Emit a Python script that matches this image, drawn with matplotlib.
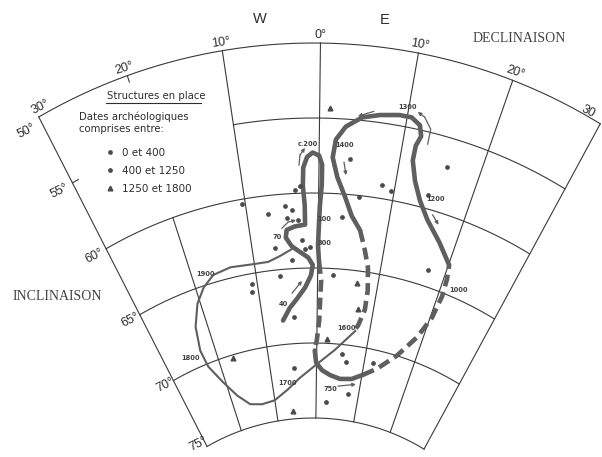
import numpy as np
import matplotlib.pyplot as plt

# ---- data (declinaison, inclinaison in degrees) ----
# thick solid branch: 40 AD -> 70 -> c.200 loop
early_dec = [-6.3, -4.9, -3.5, -2.1, -1.1, -0.8, -1.5, -2.8, -4.0, -4.8, -4.6, -3.4, -1.9,
             -1.9, -2.1, -2.0, -1.5, -0.8, 0.0, 0.4, 0.4, 0.2, 0.1, 0.0, 0.2]
early_inc = [68.4, 67.6, 67.0, 66.3, 65.5, 64.8, 64.3, 63.9, 63.5, 62.9, 62.4, 62.2, 62.1,
             60.8, 59.5, 58.3, 57.6, 57.3, 57.5, 58.1, 59.5, 60.8, 62.1, 63.5, 64.6]
# dashed: c.200 -> 750
dash1_dec = [0.2, 0.6, 0.5, 0.4, 0.0, -0.4]
dash1_inc = [64.6, 65.8, 67.1, 68.5, 69.8, 70.5]
# solid around 750
low_dec = [-0.4, -0.1, 1.2, 3.0, 5.3, 7.9, 10.2]
low_inc = [70.5, 71.3, 71.8, 72.1, 72.3, 72.2, 71.8]
# dashed: 750 -> 1000
dash2_dec = [10.2, 12.9, 16.2, 18.9, 20.3, 20.7, 20.5, 20.1]
dash2_inc = [71.8, 71.2, 70.0, 68.4, 66.8, 65.2, 64.0, 63.1]
# solid: 1000 -> 1300 -> 1400
loop_dec = [20.1, 17.7, 15.2, 13.6, 12.4, 11.6, 11.6, 12.0, 11.6, 10.5, 9.1, 6.9, 4.9,
            3.1, 2.0, 1.7, 2.4, 3.6, 4.7, 6.1]
loop_inc = [63.1, 61.9, 60.7, 59.6, 58.4, 57.1, 56.1, 55.4, 54.7, 54.3, 54.3, 54.5, 54.8,
            55.5, 56.4, 57.6, 58.9, 60.2, 61.4, 62.3]
# dashed: 1400 -> 1600
dash3_dec = [6.1, 7.1, 8.0, 8.5, 8.5, 7.7, 6.9]
dash3_inc = [62.3, 63.5, 64.7, 66.2, 67.5, 68.6, 69.1]
# thin: 1600 -> 1700 -> 1800 -> 1900 -> present
recent_dec = [7.3, 3.7, -0.3, -3.7, -6.6, -10.0, -13.2, -16.0, -18.4, -20.6, -22.4, -22.8,
              -22.1, -20.5, -18.7, -16.7, -13.8, -10.3, -7.8, -5.9, -4.0]
recent_inc = [69.0, 70.4, 71.5, 72.3, 73.0, 73.6, 73.7, 73.5, 72.7, 71.5, 70.2, 69.0,
              67.4, 66.0, 65.1, 64.5, 64.3, 64.4, 64.4, 64.1, 63.7]

# archaeological structures
sites0_dec = [-10.4, -7.1, -4.6, -3.7, -2.9, -4.4, -2.5, -3.2, -2.4, -2.0, -1.2, -6.5, -4.1,
              -6.2, -10.9, -11.1, -4.3, -4.9]
sites0_inc = [60.3, 61.2, 60.8, 61.1, 61.8, 61.6, 59.5, 59.8, 63.1, 63.7, 63.6, 63.5, 64.4,
              65.4, 65.7, 66.2, 68.2, 71.6]
sites1_dec = [3.9, 8.3, 9.6, 5.5, 3.4, 15.9, 17.3, 2.5, 5.2, 6.2, 7.5, 2.4, 11.8, 14.4]
sites1_inc = [57.6, 59.1, 59.4, 60.1, 61.5, 56.9, 63.9, 65.4, 70.6, 71.1, 73.2, 73.9, 70.9, 59.1]
sites2_dec = [1.2, 6.5, 7.3, 2.0, -17.1, -5.9]
sites2_inc = [54.3, 65.8, 67.5, 69.7, 70.2, 74.5]
legend_labels = ['0 et 400', '400 et 1250', '1250 et 1800']

date_labels = ['c.200', '1400', '1300', '1200', '1000', '750', '1600', '1700', '1800',
               '1900', '70', '40', '100', '300']
date_dec = [-1.4, 3.1, 9.9, 15.5, 22.8, 3.2, 5.5, -6.5, -25.0, -17.9, -6.1, -5.9, 0.8, 0.9]
date_inc = [56.7, 56.7, 53.7, 59.2, 64.4, 73.0, 68.9, 72.6, 69.2, 64.3, 62.8, 67.3, 61.7, 63.3]

arrow_dec = [[12.95, 12.91, 11.95, 11.07], [6.17, 4.41], [3.14, 3.50], [15.70, 16.86],
             [5.00, 9.03], [-2.53, -2.37, -1.74], [-5.26, -4.34, -3.18], [-4.36, -2.58]]
arrow_inc = [[55.81, 54.79, 54.10, 53.86], [54.31, 54.74], [57.87, 58.73], [60.27, 60.80],
             [72.79, 72.51], [58.12, 57.45, 56.99], [62.26, 61.89, 61.78], [66.63, 65.85]]

# grid
parallels = [50, 55, 60, 65, 70, 75]
parallel_from = [-30, -10, -30, -30, -30, -30]
meridians = [-30, -20, -10, 0, 10, 20, 30]
meridian_from = [50, 60, 50, 50, 50, 50, 50]
dec_ticks = [-30, -20, -10, 0, 10, 20, 30]
dec_ticklabels = ['30°', '20°', '10°', '0°', '10°', '20°', '30']
inc_ticklabels = ['50°', '55°', '60°', '65°', '70°', '75°']

GRID = '#3a3a3a'
CURVE = '#5f5f5f'
TEXT = '#2e2e2e'


def proj(dec, inc):
    # conic-like fan: meridians radiate from an apex below the chart
    dec = np.asarray(dec, float)
    inc = np.asarray(inc, float)
    th = np.radians(0.7 + 0.925 * dec)
    r = 611 - 15 * (inc - 50) - (8 - 0.2 * (inc - 50)) * (dec / 30) ** 2
    return 313 + r * np.sin(th), 654 - r * np.cos(th)


fig = plt.figure(figsize=(6.02, 4.57), dpi=100)
ax = fig.add_axes([0, 0, 1, 1])
ax.set_xlim(0, 602)
ax.set_ylim(457, 0)
ax.axis('off')

# grid lines
for inc, d0 in zip(parallels, parallel_from):
    d = np.linspace(d0, 30, 200)
    ax.plot(*proj(d, np.full_like(d, inc)), color=GRID, lw=0.8)
for dec, i0 in zip(meridians, meridian_from):
    i = np.linspace(i0, 75, 20)
    ax.plot(*proj(np.full_like(i, dec), i), color=GRID, lw=0.8)
ax.plot(*proj([-20, -20], [50, 50.45]), color=GRID, lw=0.8)
ax.plot(*proj([-30, -29.2], [55, 55]), color=GRID, lw=0.8)

# tick labels
for dec, lab in zip(dec_ticks, dec_ticklabels):
    if dec == 30:
        x, y = proj(28.3, 49.7)
    elif dec == -30:
        x, y = proj(-29.4, 49.45)
    else:
        x, y = proj(dec, 49.45)
    ax.text(x, y, lab, ha='center', va='center', rotation=-(0.7 + 0.925 * dec),
            fontsize=9, family='Liberation Sans', color=TEXT)
for inc, lab in zip(parallels, inc_ticklabels):
    shift = {50: 0.4, 75: -0.45}.get(inc, 0)
    x, y = proj(-31.8, inc + shift)
    ax.text(x, y, lab, ha='center', va='center', rotation=27,
            fontsize=9, family='Liberation Sans', color=TEXT)
for lab, dec in [('W', -5.9), ('E', 6.25)]:
    x, y = proj(dec, 48.2)
    ax.text(x, y, lab, ha='center', va='center', fontsize=10.5,
            family='Liberation Sans', color=TEXT)
ax.text(519, 39, 'DECLINAISON', ha='center', va='center', fontsize=10,
        family='Liberation Serif', color='#444444')
ax.text(57, 296, 'INCLINAISON', ha='center', va='center', fontsize=10,
        family='Liberation Serif', color='#444444')

# secular variation curve
thick = dict(color=CURVE, lw=3.3, solid_capstyle='round', solid_joinstyle='round')
dashed = dict(color=CURVE, lw=3.3, dashes=(2.6, 1.3), dash_capstyle='butt')
ax.plot(*proj(early_dec, early_inc), **thick)
ax.plot(*proj(dash1_dec, dash1_inc), **dashed)
ax.plot(*proj(low_dec, low_inc), **thick)
ax.plot(*proj(dash2_dec, dash2_inc), **dashed)
ax.plot(*proj(loop_dec, loop_inc), **thick)
ax.plot(*proj(dash3_dec, dash3_inc), **dashed)
ax.plot(*proj(recent_dec, recent_inc), color=CURVE, lw=1.5, solid_joinstyle='round')

# direction arrows
for ad, ai in zip(arrow_dec, arrow_inc):
    x, y = proj(ad, ai)
    ax.plot(x[:-1], y[:-1], color=CURVE, lw=0.9)
    ax.annotate('', xy=(x[-1], y[-1]), xytext=(x[-2], y[-2]),
                arrowprops=dict(arrowstyle='-|>', lw=0.9, color=CURVE,
                                mutation_scale=5, shrinkA=0, shrinkB=0))

# structures
h0, = ax.plot(*proj(sites0_dec, sites0_inc), 'o', ms=2.4, color='#4a4a4a', ls='none')
h1, = ax.plot(*proj(sites1_dec, sites1_inc), 'o', ms=2.4, color='#4a4a4a', ls='none')
h2, = ax.plot(*proj(sites2_dec, sites2_inc), '^', ms=3.4, color='#4a4a4a', ls='none')

for lab, d, i in zip(date_labels, date_dec, date_inc):
    x, y = proj(d, i)
    ax.text(x, y, lab, ha='center', va='center', fontsize=4.8, weight='bold', color='#404040')

# legend block
ax.text(107, 96, 'Structures en place', ha='left', va='center', fontsize=7.3, color=TEXT)
ax.plot([106, 201], [103, 103], color=TEXT, lw=0.8)
ax.text(79, 117, 'Dates archéologiques', ha='left', va='center', fontsize=7.3, color=TEXT)
ax.text(79, 129, 'comprises entre:', ha='left', va='center', fontsize=7.3, color=TEXT)
ax.legend([h0, h1, h2], legend_labels, loc='upper left',
          bbox_to_anchor=(105 / 602, 1 - 148 / 457), frameon=False, borderpad=0,
          borderaxespad=0, handlelength=1.0, handletextpad=0.6, labelspacing=0.75,
          prop={'family': 'DejaVu Sans', 'size': 7.5}, labelcolor=TEXT)

fig.savefig('out.png', dpi=100)
